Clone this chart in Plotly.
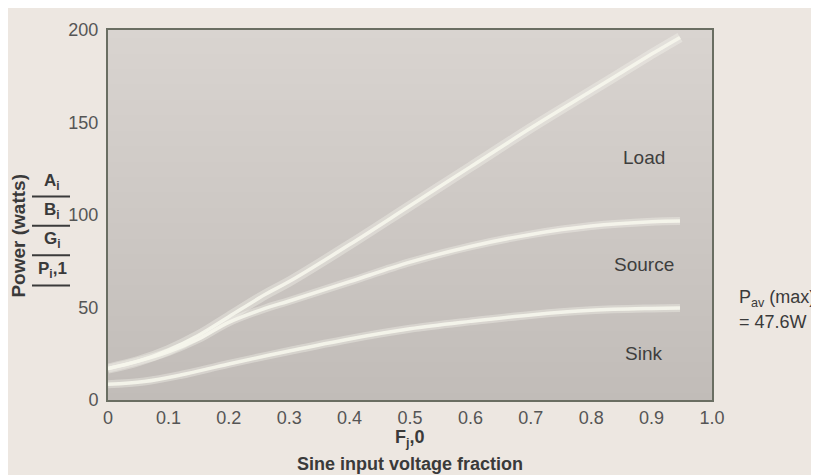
import plotly.graph_objects as go

# ---- data ----
load_x = [0.0, 0.05, 0.1, 0.15, 0.2, 0.26, 0.3, 0.4, 0.5, 0.6, 0.7, 0.8, 0.9, 0.947]
load_y = [17, 21, 27, 35, 45, 57, 64, 84, 105, 126, 147, 167, 187, 196]

source_x = [0.0, 0.05, 0.1, 0.15, 0.2, 0.26, 0.3, 0.4, 0.5, 0.6, 0.7, 0.8, 0.9, 0.947]
source_y = [17, 21, 26, 33, 42, 49.5, 53.5, 64, 74.5, 83, 89.5, 94, 96.3, 96.7]

sink_x = [0.0, 0.06, 0.12, 0.2, 0.3, 0.4, 0.5, 0.6, 0.7, 0.8, 0.9, 0.947]
sink_y = [8.5, 10, 13.5, 19.5, 26.5, 33, 38.5, 42.5, 46, 48.5, 49.5, 49.7]

x_ticks = [0, 0.1, 0.2, 0.3, 0.4, 0.5, 0.6, 0.7, 0.8, 0.9, 1.0]
x_tick_labels = ["0", "0.1", "0.2", "0.3", "0.4", "0.5", "0.6", "0.7", "0.8", "0.9", "1.0"]
y_ticks = [0, 50, 100, 150, 200]
y_tick_labels = ["0", "50", "100", "150", "200"]

series_names = ["Load", "Source", "Sink"]
label_pos = [(0.887, 131), (0.887, 73), (0.887, 25.4)]

FONT = "Liberation Sans, Arial, sans-serif"
TXT = "#3A3A3A"
TICK = "#555555"

fig = go.Figure()

# background gradient in the plot area
fig.add_trace(go.Heatmap(
    x=[0, 1], y=[0, 200], z=[[0, 0], [1, 1]],
    colorscale=[[0, "#C1BCB8"], [1, "#D9D4D0"]],
    zsmooth="best", showscale=False, hoverinfo="skip",
))

for xs, ys, w in [(load_x, load_y, 10), (source_x, source_y, 8), (sink_x, sink_y, 8)]:
    fig.add_trace(go.Scatter(x=xs, y=ys, mode="lines",
                             line=dict(color="rgba(250,250,240,0.35)", width=w, shape="spline"),
                             hoverinfo="skip", showlegend=False))
    fig.add_trace(go.Scatter(x=xs, y=ys, mode="lines",
                             line=dict(color="rgba(246,246,236,0.9)", width=3.5, shape="spline"),
                             showlegend=False))

for name, (lx, ly) in zip(series_names, label_pos):
    fig.add_annotation(x=lx, y=ly, text=name, showarrow=False, xanchor="center", yanchor="middle",
                       font=dict(size=19, color="#3E3E3E", family=FONT))

# page body has an 8px margin: lay the figure out in window pixels minus 8
OFF = 8
W, H = 819 - OFF, 475 - OFF
L, T = 108 - OFF, 22 - OFF
pw, ph = 604, 378
R, B = W - L - pw, H - T - ph


def px(xp):
    return (xp - OFF - L) / pw


def py(yp):
    return (T + ph - (yp - OFF)) / ph


def note(x, y, text, size=16, **kw):
    args = dict(xref="paper", yref="paper", x=px(x), y=py(y), text=text, showarrow=False,
                xanchor="center", yanchor="middle", font=dict(size=size, color=TXT, family=FONT))
    args.update(kw)
    fig.add_annotation(**args)


# y-axis title
note(19, 232, "<b>Power (watts)</b>", size=19, textangle=-90)
stack = ["<b>A<sub>i</sub></b>", "<b>B<sub>i</sub></b>", "<b>G<sub>i</sub></b>", "<b>P<sub>i</sub>,1</b>"]
stack_y = [177, 207, 237, 267]
for t, yy in zip(stack, stack_y):
    note(52, yy, t, size=17)
for yy in [192, 222, 252, 283]:
    fig.add_shape(type="line", xref="paper", yref="paper", x0=px(32), x1=px(70), y0=py(yy), y1=py(yy),
                  line=dict(color=TXT, width=2))

# right note
note(737, 296, "P<sub>av</sub> (max)", size=18, xanchor="left")
note(737, 320, "= 47.6W", size=18, xanchor="left")

# x-axis titles
note(410, 439, "<b>F<sub>j</sub>,0</b>", size=18)
note(410, 465, "<b>Sine input voltage fraction</b>", size=18)

fig.update_layout(
    width=W, height=H,
    margin=dict(l=L, r=R, t=T, b=B, pad=0),
    paper_bgcolor="#EDE7E1",
    plot_bgcolor="#CFC9C5",
    showlegend=False,
    font=dict(family=FONT, size=18, color=TICK),
)
fig.update_xaxes(range=[0, 1], tickvals=x_ticks, ticktext=x_tick_labels, showgrid=False, zeroline=False,
                 showline=True, mirror=True, linecolor="#6A6E62", linewidth=2, ticks="",
                 tickfont=dict(size=18, color=TICK))
fig.update_yaxes(range=[0, 200], tickvals=y_ticks, ticktext=y_tick_labels, showgrid=False, zeroline=False,
                 showline=True, mirror=True, linecolor="#6A6E62", linewidth=2, ticks="",
                 ticklabelstandoff=4, tickfont=dict(size=18, color=TICK))

fig.write_html("out.html")
